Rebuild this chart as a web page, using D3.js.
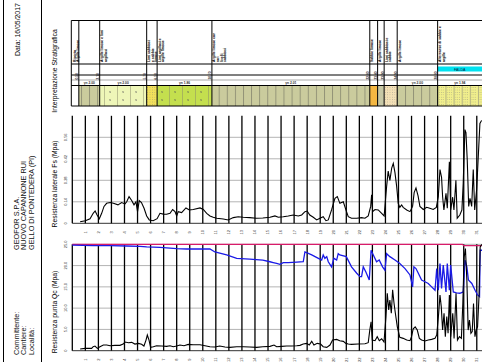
<!DOCTYPE html>
<html>
<head>
<meta charset="utf-8">
<script src="https://d3js.org/d3.v7.min.js"></script>
<style>
  body { margin: 0; background: #fff; }
  svg { font-family: "Liberation Sans", Arial, sans-serif; }
</style>
</head>
<body>
<svg width="482" height="362"></svg>
<script>
// ---- data ----
const depthLabels = [1,2,3,4,5,6,7,8,9,10,11,12,13,14,15,16,17,18,19,20,21,22,23,24,25,26,27,28,29,30,31];
const depthLines = [0].concat(depthLabels);

const fsTicks = [0, 0.14, 0.28, 0.42, 0.56];
const fsTickLabels = ["0", "0.14", "0.28", "0.42", "0.56"];
const qcTicks = [0, 5, 10, 15, 20, 25];
const qcTickLabels = ["0", "5.0", "10.0", "15.0", "20.0", "25.0"];

// strata
const layerTop    = [0, 0.5, 2.1, 5.7, 6.5, 10.7, 22.8, 23.4, 23.9, 24.9, 28.0];
const layerBottom = [0.5, 2.1, 5.7, 6.5, 10.7, 22.8, 23.4, 23.9, 24.9, 28.0, 31.4];
const layerType   = ["riporto", "argilla", "limoArg", "limoSab", "limo", "argilla", "sabbia", "argillaG", "sabbiaLimo", "argilla", "alternanza"];
const layerText = [
  ["Riporto", "Argille limose"], [],
  ["Argille limose e limi", "argillosi"],
  ["Limi sabbiosi", "e sabbie", "limose"],
  ["Limi argillosi e", "argille limose"],
  ["Argille limose con", "rari", "livelli", "sabbiosi"],
  ["Sabbie limose"], ["Argille limose"],
  ["Limi sabbiosi e", "sabbie"],
  ["Argille limose"],
  ["Alternanze di sabbie e", "argille"]
];
const layerGamma = ["", "2.00", "2.00", "", "1.86", "2.01", "", "", "", "2.00", "1.94"];

// Fs (MPa) [depth m, value]
const fsData = [[0.6,0.01],[1.0,0.017],[1.36,0.03],[1.6,0.065],[1.75,0.08],[1.9,0.054],[2.07,0.03],[2.25,0.065],[2.43,0.11],[2.63,0.13],[2.9,0.135],[3.15,0.13],[3.5,0.12],[3.78,0.135],[4.04,0.126],[4.17,0.14],[4.35,0.174],[4.55,0.148],[4.73,0.12],[4.88,0.14],[5.0,0.076],[5.13,0.148],[5.3,0.135],[5.5,0.098],[5.7,0.048],[5.9,0.022],[6.2,0.017],[6.5,0.03],[6.72,0.065],[6.97,0.06],[7.23,0.059],[7.49,0.065],[7.69,0.09],[7.87,0.076],[8.0,0.048],[8.12,0.076],[8.38,0.07],[8.71,0.1],[8.97,0.087],[9.27,0.09],[9.79,0.1],[10.04,0.09],[10.3,0.065],[10.55,0.048],[10.8,0.039],[11.07,0.033],[11.57,0.028],[11.95,0.022],[12.34,0.037],[12.72,0.043],[13.1,0.039],[13.6,0.037],[14.1,0.033],[14.6,0.035],[15.15,0.039],[15.53,0.048],[15.79,0.039],[16.17,0.043],[16.55,0.048],[16.93,0.054],[17.32,0.048],[17.58,0.054],[17.83,0.076],[18.0,0.08],[18.2,0.054],[18.47,0.039],[18.73,0.022],[18.98,0.033],[19.23,0.043],[19.44,0.017],[19.62,0.022],[19.87,0.087],[20.13,0.163],[20.31,0.174],[20.51,0.13],[20.77,0.14],[20.97,0.087],[21.15,0.043],[21.4,0.033],[21.8,0.033],[22.17,0.037],[22.43,0.033],[22.68,0.048],[22.87,0.11],[22.94,0.185],[23.02,0.076],[23.2,0.09],[23.45,0.087],[23.71,0.065],[23.9,0.048],[24.09,0.24],[24.21,0.34],[24.34,0.28],[24.48,0.36],[24.6,0.39],[24.73,0.33],[24.86,0.24],[24.98,0.13],[25.1,0.104],[25.24,0.12],[25.36,0.104],[25.63,0.087],[25.88,0.076],[26.08,0.11],[26.2,0.2],[26.34,0.23],[26.5,0.178],[26.64,0.11],[26.9,0.09],[27.16,0.104],[27.4,0.098],[27.66,0.09],[27.9,0.104],[28.05,0.174],[28.18,0.35],[28.3,0.3],[28.38,0.174],[28.48,0.087],[28.64,0.195],[28.74,0.098],[28.9,0.4],[29.0,0.087],[29.15,0.17],[29.25,0.087],[29.4,0.28],[29.5,0.033],[29.7,0.054],[29.86,0.087],[29.96,0.26],[30.09,0.61],[30.17,0.59],[30.27,0.41],[30.38,0.11],[30.48,0.163],[30.61,0.11],[30.73,0.35],[30.84,0.087],[30.99,0.22],[31.1,0.41],[31.24,0.65],[31.37,0.67]];

// Qc (MPa)
const qcData = [[0.6,0.4],[0.97,0.55],[1.48,0.55],[1.6,0.94],[1.74,1.1],[1.92,0.55],[2.12,0.94],[2.38,1.33],[2.64,1.33],[2.9,1.17],[3.27,1.25],[3.65,1.25],[3.9,1.56],[4.04,2.03],[4.3,1.88],[4.55,1.96],[4.8,1.56],[5.06,1.72],[5.31,1.5],[5.49,1.1],[5.65,2.5],[5.75,3.68],[5.88,2.5],[6.0,0.78],[6.21,0.94],[6.46,1.17],[6.85,1.1],[7.23,1.02],[7.49,1.17],[7.74,0.94],[8.0,1.1],[8.25,1.33],[8.56,1.17],[8.89,1.49],[9.27,1.41],[9.79,1.41],[10.17,1.17],[10.55,0.94],[10.93,0.86],[11.3,1.1],[11.7,0.86],[12.07,0.78],[12.6,0.94],[13.1,0.94],[13.6,0.86],[14.13,0.78],[14.6,0.94],[15.15,1.02],[15.46,1.33],[15.66,0.94],[16.05,1.02],[16.43,1.1],[16.8,1.1],[17.2,1.17],[17.45,1.25],[17.7,1.56],[17.96,1.72],[18.16,1.33],[18.35,2.2],[18.52,1.33],[18.77,1.72],[19.03,1.56],[19.23,0.94],[19.5,0.78],[19.75,1.33],[19.95,2.5],[20.26,2.66],[20.5,2.35],[20.77,2.2],[20.97,1.72],[21.15,1.56],[21.4,1.49],[21.9,1.56],[22.43,1.64],[22.68,1.88],[22.8,4.85],[22.9,6.8],[22.99,2.5],[23.2,2.35],[23.37,3.3],[23.53,2.35],[23.71,2.8],[23.89,2.03],[24.04,8.0],[24.14,13.5],[24.25,9.6],[24.34,11.9],[24.45,8.8],[24.55,14.3],[24.66,11.1],[24.76,8.8],[24.91,5.6],[25.1,3.13],[25.36,2.9],[25.63,2.5],[25.88,2.35],[26.0,3.3],[26.13,5.16],[26.28,5.6],[26.44,4.85],[26.6,2.9],[26.77,2.5],[27.03,2.27],[27.28,2.5],[27.54,2.66],[27.8,2.9],[27.93,3.7],[28.08,8.8],[28.18,13.1],[28.28,10.3],[28.38,4.85],[28.49,8.8],[28.59,3.3],[28.7,8.0],[28.8,4.1],[28.9,13.1],[29.0,3.3],[29.16,8.8],[29.26,2.9],[29.41,13.5],[29.52,2.5],[29.67,3.3],[29.82,2.9],[29.93,11.1],[30.03,22.0],[30.13,24.0],[30.24,16.6],[30.34,4.85],[30.44,7.2],[30.55,4.1],[30.65,4.5],[30.75,11.1],[30.86,3.3],[30.95,4.85],[31.06,5.6],[31.17,12.7],[31.26,24.4],[31.39,25.0]];

// blue curve (Qc panel)
const blueData = [[0.0,24.8],[1.6,24.7],[2.9,24.7],[4.17,24.6],[5.19,24.5],[5.7,24.4],[6.72,24.3],[8.0,24.0],[8.77,23.9],[9.79,23.9],[10.55,23.9],[10.93,23.2],[11.83,22.5],[12.6,21.7],[13.6,21.5],[14.6,21.3],[15.15,20.9],[15.4,20.7],[15.66,20.5],[15.91,20.3],[16.17,20.7],[16.55,20.7],[17.2,20.8],[17.7,20.9],[17.83,23.2],[18.35,22.5],[18.86,21.7],[19.11,21.3],[19.23,22.5],[19.36,21.7],[19.5,22.1],[19.62,20.9],[19.87,19.7],[20.05,21.7],[20.26,21.3],[20.38,22.8],[20.5,22.5],[21.0,22.1],[21.4,19.7],[21.8,18.2],[22.05,17.4],[22.17,17.4],[22.3,19.7],[22.5,18.5],[22.76,16.6],[22.9,23.6],[23.07,22.5],[23.32,20.9],[23.52,21.3],[23.78,19.7],[23.96,18.9],[24.09,22.8],[24.34,22.1],[24.73,21.3],[25.1,20.5],[25.5,19.3],[25.88,17.8],[26.08,15.0],[26.18,19.7],[26.34,19.3],[26.52,18.2],[26.77,16.6],[27.03,16.2],[27.28,15.8],[27.54,15.0],[27.8,14.2],[27.93,19.3],[28.05,14.2],[28.18,20.5],[28.3,14.6],[28.43,20.1],[28.64,13.8],[28.74,20.5],[28.9,14.2],[29.0,20.1],[29.2,13.8],[29.45,13.6],[29.7,13.5],[29.96,13.8],[30.1,21.3],[30.24,19.7],[30.36,16.6],[30.62,15.8],[30.87,14.2],[31.06,13.1],[31.21,12.7],[31.26,23.6],[31.4,23.6]];

// magenta line (Qc panel)
const pinkData = [[0, 25], [29.9, 25], [30.0, 24.7], [31.4, 24.7]];

// ---- scales ----
const svg = d3.select("svg");
const x = d3.scaleLinear().domain([0, 31.4]).range([72.3, 482]);
const yFs = d3.scaleLinear().domain([0, 0.70]).range([223.3, 115.8]);
const yQc = d3.scaleLinear().domain([0, 25]).range([350.7, 244.3]);

function vtext(g, tx, ty, str, size, anchor) {
  return g.append("text")
    .attr("transform", `translate(${tx},${ty}) rotate(-90)`)
    .attr("text-anchor", anchor || "start")
    .style("font-size", size + "px")
    .text(str);
}

// ---- frame and header ----
svg.append("line").attr("x1", 3.5).attr("x2", 3.5).attr("y1", 0).attr("y2", 362).attr("stroke", "#000");
svg.append("line").attr("x1", 41.5).attr("x2", 41.5).attr("y1", 0).attr("y2", 362).attr("stroke", "#000");

vtext(svg, 20, 56, "Data: 16/05/2017", 6.9);
const head = svg.append("g").attr("fill", "#111");
[["GEOFOR S.P.A.", 18.5], ["NUOVO CAPANNONE RUI", 26], ["GELLO DI PONTEDERA (PI)", 33.5]]
  .forEach(d => vtext(head, d[1], 250, d[0], 7.3));
[["Committente:", 18.5], ["Cantiere:", 26], ["Località:", 33.5]]
  .forEach(d => vtext(head, d[1], 355, d[0], 7.3));

vtext(svg, 57, 71, "Interpretazione Stratigrafica", 6.8, "middle");
vtext(svg, 57, 184, "Resistenza laterale Fs (Mpa)", 6.8, "middle");
vtext(svg, 57, 312, "Resistenza punta Qc (Mpa)", 6.8, "middle");

// ---- strata panel ----
const defs = svg.append("defs");
const pv = defs.append("pattern").attr("id", "pClay").attr("patternUnits", "userSpaceOnUse")
  .attr("width", 8.1).attr("height", 20);
pv.append("line").attr("x1", 0.5).attr("x2", 0.5).attr("y1", 0).attr("y2", 20).attr("stroke", "#6a6a5a").attr("stroke-width", 0.6);
const ps = defs.append("pattern").attr("id", "pSilt").attr("patternUnits", "userSpaceOnUse")
  .attr("width", 13).attr("height", 8);
ps.append("text").attr("x", 5).attr("y", 5).style("font-size", "4px").attr("fill", "#555").text("s");
ps.append("line").attr("x1", 0.5).attr("x2", 0.5).attr("y1", 0).attr("y2", 8).attr("stroke", "#8a8a6a").attr("stroke-width", 0.5);
const pd = defs.append("pattern").attr("id", "pDot").attr("patternUnits", "userSpaceOnUse")
  .attr("width", 2.4).attr("height", 2.4);
pd.append("circle").attr("cx", 1.2).attr("cy", 1.2).attr("r", 0.35).attr("fill", "#777");
const pa = defs.append("pattern").attr("id", "pAlt").attr("patternUnits", "userSpaceOnUse")
  .attr("width", 8.1).attr("height", 2.4);
pa.append("circle").attr("cx", 4).attr("cy", 1.2).attr("r", 0.35).attr("fill", "#777");
pa.append("circle").attr("cx", 2).attr("cy", 1.2).attr("r", 0.35).attr("fill", "#777");
pa.append("circle").attr("cx", 6).attr("cy", 1.2).attr("r", 0.35).attr("fill", "#777");
pa.append("line").attr("x1", 0.5).attr("x2", 0.5).attr("y1", 0).attr("y2", 2.4).attr("stroke", "#777").attr("stroke-width", 0.5);

const typeStyle = {
  riporto:    { fill: "#ffffff", pat: null },
  argilla:    { fill: "#cacb9d", pat: "pClay" },
  limoArg:    { fill: "#eef6b8", pat: "pSilt" },
  limoSab:    { fill: "#f2e05a", pat: "pDot" },
  limo:       { fill: "#c4df4e", pat: "pSilt" },
  sabbia:     { fill: "#f4b742", pat: null },
  argillaG:   { fill: "#c7c8a6", pat: null },
  sabbiaLimo: { fill: "#f3e0b6", pat: "pDot" },
  alternanza: { fill: "#f1ef8c", pat: "pAlt" }
};

const sTop = 20.5, sRow1 = 64, sRow2 = 75, sGrey = 80, sBand = 85.5, sBot = 106;
const strata = svg.append("g");
const layers = layerTop.map((t, i) => ({ t: t, b: layerBottom[i], type: layerType[i], text: layerText[i], g: layerGamma[i] }));

strata.selectAll("rect.fill").data(layers).enter().append("rect")
  .attr("x", d => x(d.t)).attr("width", d => x(d.b) - x(d.t))
  .attr("y", sBand).attr("height", sBot - sBand)
  .attr("fill", d => typeStyle[d.type].fill);
strata.selectAll("rect.pat").data(layers.filter(d => typeStyle[d.type].pat)).enter().append("rect")
  .attr("x", d => x(d.t)).attr("width", d => x(d.b) - x(d.t))
  .attr("y", sBand).attr("height", sBot - sBand)
  .attr("fill", d => `url(#${typeStyle[d.type].pat})`);

// falda band
strata.append("rect").attr("x", x(28.0)).attr("width", 482 - x(28.0))
  .attr("y", 66.5).attr("height", 5).attr("fill", "#00e2f0");
strata.append("text").attr("x", (x(28.0) + 482) / 2).attr("y", 70.6).attr("text-anchor", "middle")
  .style("font-size", "3.6px").attr("fill", "#024").text("FALDA");

[sTop, sRow1, sRow2, sBand, sBot].forEach(yy =>
  strata.append("line").attr("x1", 71.3).attr("x2", 482).attr("y1", yy).attr("y2", yy).attr("stroke", "#000"));
strata.append("line").attr("x1", 71.3).attr("x2", 482).attr("y1", sGrey).attr("y2", sGrey).attr("stroke", "#aaa");
strata.append("line").attr("x1", 71.3).attr("x2", 71.3).attr("y1", sTop).attr("y2", sBot).attr("stroke", "#000");
strata.selectAll("line.b").data(layerBottom.slice(0, -1)).enter().append("line")
  .attr("x1", d => x(d)).attr("x2", d => x(d)).attr("y1", sTop).attr("y2", sBot)
  .attr("stroke", "#000");

// descriptions
layers.forEach(d => {
  d.text.forEach((s, j) => vtext(strata, x(d.t) + 3.5 + j * 3.6, 62, s, 3.4).attr("font-weight", "bold"));
  if (d.g) strata.append("text").attr("x", (x(d.t) + x(d.b)) / 2).attr("y", 83.6)
    .attr("text-anchor", "middle").style("font-size", "3.3px").attr("font-weight", "bold").attr("fill", "#333")
    .text("γn " + d.g);
});
strata.selectAll("text.bd").data(layerBottom.slice(0, -1)).enter().append("text")
  .attr("transform", d => `translate(${x(d) - 0.6},79.5) rotate(-90)`)
  .style("font-size", "3.2px").attr("font-weight", "bold").attr("fill", "#333")
  .text(d => d.toFixed(2));

// ---- chart panels ----
function panel(y, ticks, tickLabels, top) {
  const g = svg.append("g");
  g.selectAll("line.grid").data(ticks.slice(1)).enter().append("line")
    .attr("x1", x(0)).attr("x2", 482).attr("y1", d => y(d)).attr("y2", d => y(d))
    .attr("stroke", "#b4b4b4").attr("stroke-width", 1);
  g.append("line").attr("x1", x(0)).attr("x2", 482).attr("y1", y(0)).attr("y2", y(0))
    .attr("stroke", "#333").attr("stroke-width", 1);
  g.selectAll("line.v").data(depthLines).enter().append("line")
    .attr("x1", d => x(d)).attr("x2", d => x(d)).attr("y1", y(top)).attr("y2", y(0))
    .attr("stroke", "#000").attr("stroke-width", 1.3);
  g.selectAll("text.tl").data(ticks).enter().append("text")
    .attr("transform", (d, i) => `translate(67,${y(d)}) rotate(-90)`)
    .attr("text-anchor", "middle").style("font-size", "4px").attr("fill", "#333")
    .text((d, i) => tickLabels[i]);
  g.selectAll("text.dl").data(depthLabels).enter().append("text")
    .attr("transform", d => `translate(${x(d) + 1.4},${y(0) + 9}) rotate(-90)`)
    .attr("text-anchor", "middle").style("font-size", "4px").attr("fill", "#333")
    .text(d => d);
  return g;
}

const fsPanel = panel(yFs, fsTicks, fsTickLabels, 0.70);
const qcPanel = panel(yQc, qcTicks, qcTickLabels, 25);

const lineFs = d3.line().x(d => x(d[0])).y(d => yFs(d[1]));
const lineQc = d3.line().x(d => x(d[0])).y(d => yQc(d[1]));

fsPanel.append("path").datum(fsData).attr("d", lineFs)
  .attr("fill", "none").attr("stroke", "#000").attr("stroke-width", 1.1);
qcPanel.append("path").datum(pinkData).attr("d", lineQc)
  .attr("fill", "none").attr("stroke", "#d81b6a").attr("stroke-width", 1.2);
qcPanel.append("path").datum(blueData).attr("d", lineQc)
  .attr("fill", "none").attr("stroke", "#1a1ae6").attr("stroke-width", 1.3);
qcPanel.append("path").datum(qcData).attr("d", lineQc)
  .attr("fill", "none").attr("stroke", "#000").attr("stroke-width", 1.1);
</script>
</body>
</html>
